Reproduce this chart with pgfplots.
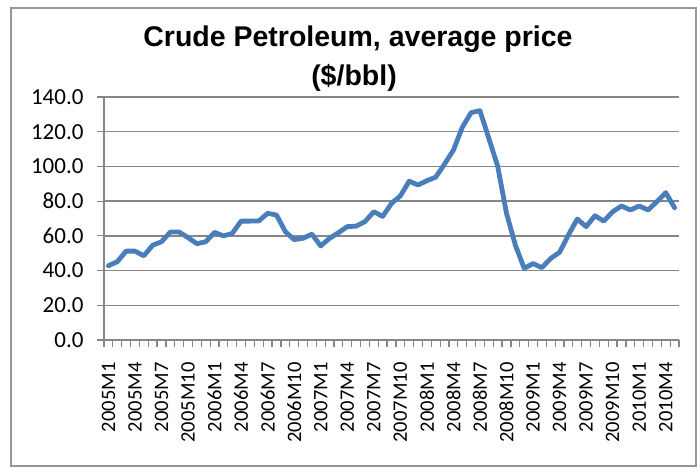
\documentclass[border=0pt]{standalone}
\usepackage{pgfplots}
\pgfplotsset{compat=1.18}
\usepackage{fontspec}
\setmainfont{Carlito}
\newfontfamily\titlefont{Liberation Sans}
\definecolor{gridgray}{RGB}{134,134,134}
\definecolor{framegray}{RGB}{150,150,150}
\definecolor{serblue}{RGB}{74,126,187}
\begin{document}
\begin{tikzpicture}
\path[use as bounding box] (0,0) rectangle (697pt,467pt);
\draw[framegray, line width=1.2pt] (11pt,1pt) rectangle (696pt,459pt);
\begin{axis}[
  at={(104pt,127pt)}, anchor=south west,
  scale only axis, width=575pt, height=243pt,
  xmin=-0.5, xmax=64.5, ymin=0, ymax=140,
  axis x line=bottom, axis y line=left,
  axis line style={-, draw=gridgray, line width=1.3pt},
  ytick={0,20,...,140},
  /pgf/number format/.cd, fixed, fixed zerofill, precision=1, assume math mode=true,
  /pgfplots/.cd,
  xtick={0,3,...,63},
  xticklabels={2005M1,2005M4,2005M7,2005M10,2006M1,2006M4,2006M7,2006M10,2007M1,2007M4,2007M7,2007M10,2008M1,2008M4,2008M7,2008M10,2009M1,2009M4,2009M7,2009M10,2010M1,2010M4},
  minor xtick={-0.5,0.5,...,64.5},
  tick align=outside,
  major tick length=7pt, minor tick length=7pt,
  major x tick style={draw=none},
  every tick/.style={draw=gridgray, line width=1.2pt},
  minor tick style={draw=gridgray, line width=1.2pt},
  ytick style={draw=gridgray, line width=1.2pt},
  ymajorgrids,
  major grid style={draw=gridgray, line width=1.3pt},
  xticklabel style={font=\fontsize{20.5}{24}\selectfont, yshift=-12pt, rotate=90, anchor=east},
  yticklabel style={font=\fontsize{23}{27}\selectfont, xshift=-10pt},
]
\addplot[serblue, line width=4.8pt, line join=round, line cap=round, mark=none] coordinates {
(0,42.8) (1,45.1) (2,51.2) (3,51.2) (4,48.5) (5,54.6) (6,56.6) (7,62.2) (8,62.2) (9,59.0)
(10,55.5) (11,56.6) (12,62.0) (13,60.0) (14,61.4) (15,68.5) (16,68.5) (17,68.6) (18,73.0) (19,72.0)
(20,62.4) (21,57.8) (22,58.6) (23,61.0) (24,54.2) (25,58.6) (26,61.8) (27,65.3) (28,65.6) (29,68.2)
(30,73.9) (31,71.2) (32,78.7) (33,83.0) (34,91.5) (35,89.3) (36,91.8) (37,93.8) (38,101.4) (39,109.4)
(40,122.5) (41,131.0) (42,132.1) (43,116.2) (44,100.2) (45,73.0) (46,54.7) (47,41.3) (48,44.0) (49,41.7)
(50,47.0) (51,50.5) (52,60.5) (53,69.7) (54,65.3) (55,71.6) (56,68.5) (57,73.9) (58,77.2) (59,74.9)
(60,77.2) (61,74.9) (62,79.7) (63,84.9) (64,76.2)
};
\end{axis}
\node[anchor=base, font=\titlefont\bfseries\fontsize{28.5}{34}\selectfont] at (358pt,420pt) {Crude Petroleum, average price};
\node[anchor=base, font=\titlefont\bfseries\fontsize{28.5}{34}\selectfont] at (354pt,381pt) {(\$/bbl)};
\end{tikzpicture}
\end{document}
